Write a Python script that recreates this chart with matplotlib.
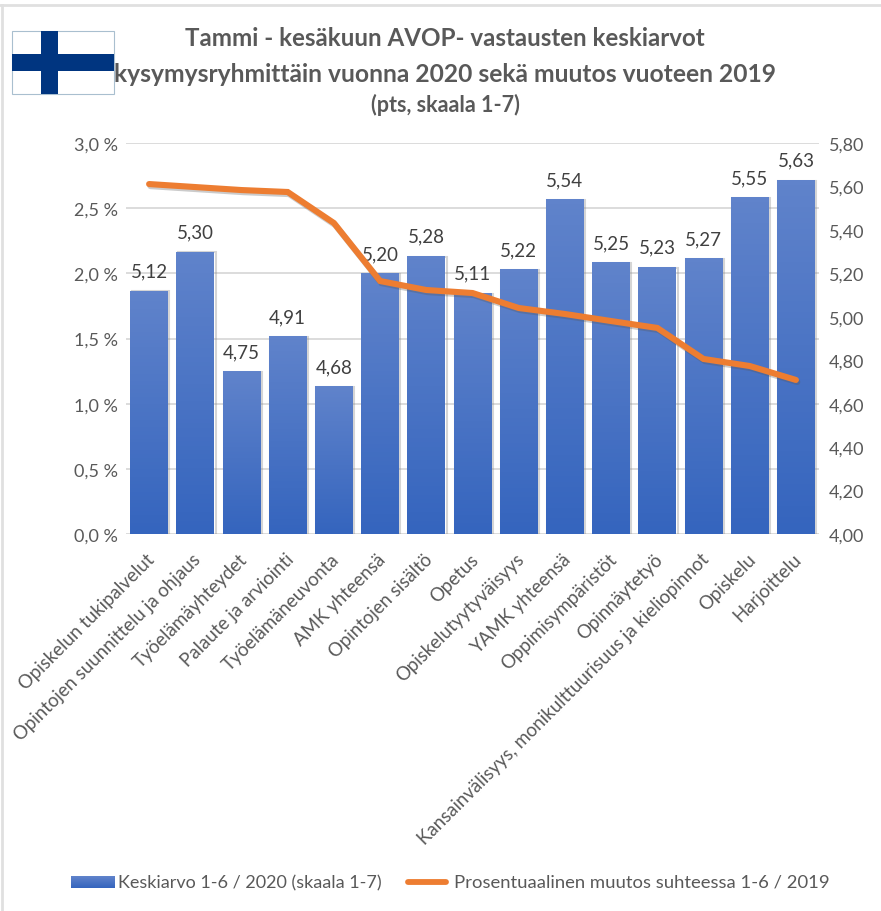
import numpy as np
import matplotlib
matplotlib.use("Agg")
import matplotlib.pyplot as plt
import matplotlib.patheffects as pe
from matplotlib.colors import LinearSegmentedColormap
from matplotlib.patches import Rectangle
from matplotlib.lines import Line2D
from matplotlib.transforms import ScaledTranslation

plt.rcParams['font.family'] = ['Lato', 'DejaVu Sans']

categories = ["Opiskelun tukipalvelut", "Opintojen suunnittelu ja ohjaus", "Työelämäyhteydet",
              "Palaute ja arviointi", "Työelämäneuvonta", "AMK yhteensä", "Opintojen sisältö", "Opetus",
              "Opiskelutyytyväisyys", "YAMK yhteensä", "Oppimisympäristöt", "Opinnäytetyö",
              "Kansainvälisyys, monikulttuurisuus ja kieliopinnot", "Opiskelu", "Harjoittelu"]
means_2020 = [5.12, 5.30, 4.75, 4.91, 4.68, 5.20, 5.28, 5.11, 5.22, 5.54, 5.25, 5.23, 5.27, 5.55, 5.63]
change_pct = [2.685, 2.662, 2.639, 2.624, 2.386, 1.941, 1.872, 1.849, 1.734, 1.688, 1.634, 1.581, 1.343, 1.289, 1.182]
left_ticks = [0, 0.5, 1.0, 1.5, 2.0, 2.5, 3.0]
right_ticks = [4.00, 4.20, 4.40, 4.60, 4.80, 5.00, 5.20, 5.40, 5.60, 5.80]
legend_labels = ["Keskiarvo 1-6 / 2020 (skaala 1-7)", "Prosentuaalinen muutos suhteessa 1-6 / 2019"]
title_lines = ["Tammi - kesäkuun AVOP- vastausten keskiarvot",
               "kysymysryhmittäin vuonna 2020 sekä muutos vuoteen 2019",
               "(pts, skaala 1-7)"]

W, H = 881, 912
TXT = "#595959"
fig = plt.figure(figsize=(W/100, H/100), dpi=100, facecolor="white")

def box(l, t, r, b):
    return [l/W, 1-b/H, (r-l)/W, (b-t)/H]

ax = fig.add_axes(box(126, 144, 819, 535))
ax2 = ax.twinx()
x = np.arange(len(categories))
BASE = right_ticks[0]
ax.set_xlim(-0.5, len(categories)-0.5)
ax.set_ylim(0, 3)
ax2.set_ylim(4, 5.8)

# bars on the right-hand axis, gradient clipped to each bar
cmap = LinearSegmentedColormap.from_list("b", ["#3565BE", "#6083CB"])
bars = ax2.bar(x, np.array(means_2020)-BASE, bottom=BASE, width=0.82, color="#4472C4", zorder=2)
for b in bars:
    b.set_path_effects([pe.SimpleLineShadow(offset=(1, -0.5), shadow_color="#888888", alpha=0.35, linewidth=1.5), pe.Normal()])
    bx, by, bw, bh = b.get_x(), b.get_y(), b.get_width(), b.get_height()
    im = ax2.imshow(np.linspace(1, 0, 64).reshape(-1, 1), cmap=cmap, extent=(bx, bx+bw, by, by+bh),
                    aspect="auto", zorder=3, vmin=0, vmax=1)
    im.set_clip_path(Rectangle((bx, by), bw, bh, transform=ax2.transData))
ax2.set_xlim(-0.5, len(categories)-0.5)
ax2.set_ylim(4, 5.8)

for xi, v in zip(x, means_2020):
    ax2.annotate(f"{v:.2f}".replace(".", ","), (xi, v), xytext=(0, 8), textcoords="offset points",
                 ha="center", va="bottom", fontsize=13.5, color="#404040", zorder=6)

# line on the left-hand axis, above the bars
ax.set_zorder(ax2.get_zorder()+1)
ax.patch.set_visible(False)
ax2.patch.set_visible(False)
line, = ax.plot(x, change_pct, color="#ED7D31", lw=4.4, solid_capstyle="round", solid_joinstyle="miter", zorder=5,
                path_effects=[pe.SimpleLineShadow(offset=(1, -1.5), shadow_color="#555555", alpha=0.3), pe.Normal()])

# grid drawn on the bar axis so that it stays behind the bars
ax2.set_yticks(right_ticks)
ax2.set_yticklabels([f"{t:.2f}".replace(".", ",") for t in right_ticks], fontsize=13, color=TXT)
for t in left_ticks:
    ax2.axhline(4 + t/3*1.8, color="#D9D9D9", lw=1.3, zorder=1)
ax.set_yticks(left_ticks)
ax.set_yticklabels([f"{t:.1f} %".replace(".", ",") for t in left_ticks], fontsize=13, color=TXT)
ax.set_xticks(x)
ax.set_xticklabels(categories, rotation=45, ha="right", va="top", rotation_mode="anchor", fontsize=13.4, color=TXT)
ax.tick_params(axis="both", length=0, pad=6)
ax.tick_params(axis="x", pad=5)
ax2.tick_params(axis="y", length=0, pad=7)
ax2.tick_params(axis="x", length=0)
shift = ScaledTranslation(-3/100, -9/100, fig.dpi_scale_trans)
for lab in ax.get_xticklabels():
    lab.set_transform(lab.get_transform() + shift)
for a in (ax, ax2):
    for s in a.spines.values():
        s.set_visible(False)

# titles
for txt, yy, fs in zip(title_lines, [39, 74, 105], [17.4, 17.7, 15.5]):
    fig.text(445/W, 1-yy/H, txt, ha="center", va="center", fontsize=fs, fontweight="bold", color=TXT)

# flag and chart frame in figure pixels
def frect(l, t, r, b, **kw):
    fig.add_artist(Rectangle((l/W, 1-b/H), (r-l)/W, (b-t)/H, transform=fig.transFigure, **kw))
frect(12, 32, 114, 95, fc="white", ec="#A9BFCF", lw=0.8)
frect(12, 55, 114, 72, fc="#003580", ec="none")
frect(41, 32, 58, 95, fc="#003580", ec="none")
fig.add_artist(Line2D([0, 1], [1-6/H, 1-6/H], color="#E0E0E0", lw=2, transform=fig.transFigure))
fig.add_artist(Line2D([1.5/W, 1.5/W], [0, 1-6/H], color="#E0E0E0", lw=2, transform=fig.transFigure))

# legend
lg_y = 883
lax = fig.add_axes(box(71, lg_y-6, 115, lg_y+6))
lax.imshow(np.linspace(1, 0, 32).reshape(-1, 1), cmap=cmap, aspect="auto", vmin=0, vmax=1)
lax.axis("off")
fig.text(118/W, 1-lg_y/H, legend_labels[0], ha="left", va="center", fontsize=13.0, color=TXT)
fig.add_artist(Line2D([408/W, 446/W], [1-lg_y/H]*2, color="#ED7D31", lw=4.2, solid_capstyle="round", transform=fig.transFigure))
fig.text(454/W, 1-lg_y/H, legend_labels[1], ha="left", va="center", fontsize=13.3, color=TXT)

fig.savefig("out.png", dpi=100, facecolor="white")
